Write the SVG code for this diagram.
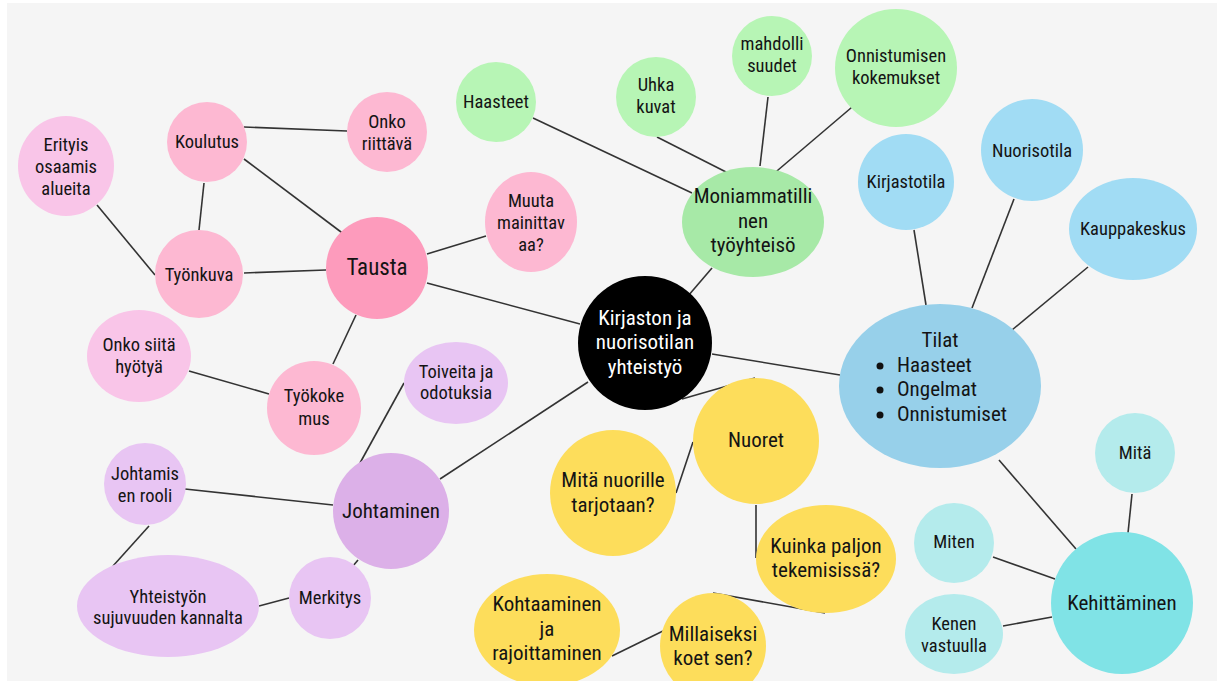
<svg xmlns="http://www.w3.org/2000/svg" width="1217" height="681" viewBox="0 0 1217 681">
<style>
.bg{fill:#f5f5f5}
.e{stroke:#333;stroke-width:1.6;fill:none}
text{font-family:"Liberation Sans Narrow","Roboto Condensed","DejaVu Sans Condensed","Liberation Sans",sans-serif;font-stretch:condensed;fill:#141414;text-anchor:middle;font-size:18.5px}
.b{font-size:21px}
.w{fill:#ffffff}
.l{text-anchor:start}
.pk1{fill:#f9c5e8}.pk2{fill:#fdb8d2}.pk3{fill:#fd9bbc}
.g1{fill:#b7f5b5}.g2{fill:#a7e9a7}
.bl1{fill:#a1dcf4}.bl2{fill:#97d0ea}
.pu1{fill:#e8c5f3}.pu2{fill:#dcb0e8}
.y{fill:#fddd5b}
.t1{fill:#b4ebec}.t2{fill:#80e3e6}
</style>
<rect x="0" y="0" width="1217" height="681" fill="#ffffff"/>
<rect class="bg" x="7" y="3" width="1210" height="678"/>
<g id="connectors">
<line class="e" x1="97" y1="205" x2="155" y2="275"/>
<line class="e" x1="244" y1="127" x2="347" y2="131"/>
<line class="e" x1="204" y1="183" x2="199" y2="230"/>
<line class="e" x1="244" y1="159" x2="345" y2="235"/>
<line class="e" x1="244" y1="273" x2="326" y2="270"/>
<line class="e" x1="427" y1="254" x2="486" y2="236"/>
<line class="e" x1="427" y1="283" x2="580" y2="324"/>
<line class="e" x1="356" y1="315" x2="333" y2="364"/>
<line class="e" x1="189" y1="371" x2="269" y2="394"/>
<line class="e" x1="533" y1="118" x2="692" y2="193"/>
<line class="e" x1="657" y1="137" x2="728" y2="173"/>
<line class="e" x1="768" y1="97" x2="760" y2="166"/>
<line class="e" x1="858" y1="102" x2="771" y2="176"/>
<line class="e" x1="712" y1="268" x2="688" y2="296"/>
<line class="e" x1="712" y1="354" x2="840" y2="375"/>
<line class="e" x1="440" y1="479" x2="588" y2="382"/>
<line class="e" x1="682" y1="399" x2="755" y2="378"/>
<line class="e" x1="693" y1="442" x2="676" y2="493"/>
<line class="e" x1="756" y1="505" x2="756" y2="558"/>
<line class="e" x1="713" y1="593" x2="825" y2="613"/>
<line class="e" x1="612" y1="656" x2="663" y2="631"/>
<line class="e" x1="914" y1="230" x2="926" y2="305"/>
<line class="e" x1="1014" y1="199" x2="972" y2="308"/>
<line class="e" x1="1088" y1="267" x2="1012" y2="330"/>
<line class="e" x1="999" y1="460" x2="1076" y2="549"/>
<line class="e" x1="1132" y1="494" x2="1128" y2="533"/>
<line class="e" x1="993" y1="557" x2="1055" y2="579"/>
<line class="e" x1="1003" y1="626" x2="1052" y2="617"/>
<line class="e" x1="360" y1="463" x2="404" y2="383"/>
<line class="e" x1="185" y1="489" x2="333" y2="505"/>
<line class="e" x1="149" y1="526" x2="113" y2="566"/>
<line class="e" x1="358" y1="560" x2="353" y2="566"/>
<line class="e" x1="289" y1="598" x2="259" y2="606"/>
</g>
<g id="erityis"><ellipse class="pk1" cx="66" cy="166" rx="48" ry="50"/><text x="66" y="151">Erityis</text><text x="66" y="173">osaamis</text><text x="66" y="195">alueita</text></g>
<g id="koulutus"><circle class="pk2" cx="207" cy="142" r="40"/><text x="207" y="148">Koulutus</text></g>
<g id="onko-riittava"><circle class="pk2" cx="387" cy="132" r="40"/><text x="387" y="128">Onko</text><text x="387" y="150">riittävä</text></g>
<g id="tyonkuva"><circle class="pk2" cx="199" cy="274" r="44"/><text x="199" y="281">Työnkuva</text></g>
<g id="tausta"><circle class="pk3" cx="377" cy="268" r="51"/><text class="b" x="377" y="275" style="font-size:23px">Tausta</text></g>
<g id="muuta"><ellipse class="pk2" cx="531" cy="222" rx="46" ry="50"/><text x="531" y="207">Muuta</text><text x="531" y="229">mainittav</text><text x="531" y="251">aa?</text></g>
<g id="onko-siita"><ellipse class="pk1" cx="139" cy="356" rx="52" ry="46"/><text x="139" y="351">Onko siitä</text><text x="139" y="373">hyötyä</text></g>
<g id="tyokokemus"><circle class="pk2" cx="314" cy="408" r="47"/><text x="314" y="402">Työkoke</text><text x="314" y="425">mus</text></g>
<g id="haasteet"><circle class="g1" cx="496" cy="102" r="40"/><text x="496" y="108">Haasteet</text></g>
<g id="uhkakuvat"><circle class="g1" cx="656" cy="97" r="40"/><text x="656" y="91">Uhka</text><text x="656" y="113">kuvat</text></g>
<g id="mahdollisuudet"><circle class="g1" cx="772" cy="56" r="40"/><text x="772" y="50">mahdolli</text><text x="772" y="72">suudet</text></g>
<g id="onnistumisen"><ellipse class="g1" cx="896" cy="68" rx="61" ry="59"/><text x="896" y="62">Onnistumisen</text><text x="896" y="84">kokemukset</text></g>
<g id="moniammatillinen"><ellipse class="g2" cx="753" cy="222" rx="71" ry="55"/><text class="b" x="753" y="203">Moniammatilli</text><text class="b" x="753" y="228">nen</text><text class="b" x="753" y="252">työyhteisö</text></g>
<g id="kirjastotila"><circle class="bl1" cx="906" cy="182" r="48"/><text x="906" y="188">Kirjastotila</text></g>
<g id="nuorisotila"><circle class="bl1" cx="1032" cy="150" r="51"/><text x="1032" y="157">Nuorisotila</text></g>
<g id="kauppakeskus"><ellipse class="bl1" cx="1133" cy="229" rx="64" ry="51"/><text x="1133" y="235">Kauppakeskus</text></g>
<g id="tilat"><ellipse class="bl2" cx="940" cy="386" rx="101" ry="82"/><text class="b" x="940" y="347">Tilat</text>
<circle cx="880" cy="366" r="3.5" fill="#111"/><circle cx="880" cy="390" r="3.5" fill="#111"/><circle cx="880" cy="415" r="3.5" fill="#111"/>
<text class="b l" x="897" y="372">Haasteet</text><text class="b l" x="897" y="396">Ongelmat</text><text class="b l" x="897" y="421">Onnistumiset</text></g>
<g id="center"><circle cx="645" cy="343" r="67" fill="#000"/><text class="b w" x="645" y="325">Kirjaston ja</text><text class="b w" x="645" y="349">nuorisotilan</text><text class="b w" x="645" y="374">yhteistyö</text></g>
<g id="nuoret"><circle class="y" cx="756" cy="441" r="63"/><text class="b" x="756" y="447">Nuoret</text></g>
<g id="mita-nuorille"><circle class="y" cx="613" cy="493" r="63"/><text class="b" x="613" y="487">Mitä nuorille</text><text class="b" x="613" y="512">tarjotaan?</text></g>
<g id="kuinka-paljon"><ellipse class="y" cx="826" cy="559" rx="70" ry="54"/><text class="b" x="826" y="553">Kuinka paljon</text><text class="b" x="826" y="577">tekemisissä?</text></g>
<g id="kohtaaminen"><ellipse class="y" cx="547" cy="630" rx="73" ry="56"/><text class="b" x="547" y="611">Kohtaaminen</text><text class="b" x="547" y="636">ja</text><text class="b" x="547" y="660">rajoittaminen</text></g>
<g id="millaiseksi"><circle class="y" cx="713" cy="646" r="53"/><text class="b" x="713" y="641">Millaiseksi</text><text class="b" x="713" y="665">koet sen?</text></g>
<g id="toiveita"><ellipse class="pu1" cx="456" cy="383" rx="52" ry="41"/><text x="456" y="378">Toiveita ja</text><text x="456" y="399">odotuksia</text></g>
<g id="johtaminen"><circle class="pu2" cx="391" cy="511" r="58"/><text class="b" x="391" y="518">Johtaminen</text></g>
<g id="johtamisen-rooli"><circle class="pu1" cx="145" cy="484" r="41"/><text x="145" y="480">Johtamis</text><text x="145" y="502">en rooli</text></g>
<g id="yhteistyon"><ellipse class="pu1" cx="168" cy="606" rx="91" ry="51"/><text x="168" y="603">Yhteistyön</text><text x="168" y="624">sujuvuuden kannalta</text></g>
<g id="merkitys"><circle class="pu1" cx="330" cy="598" r="41"/><text x="330" y="604">Merkitys</text></g>
<g id="kehittaminen"><circle class="t2" cx="1122" cy="603" r="71"/><text class="b" x="1122" y="610">Kehittäminen</text></g>
<g id="mita"><circle class="t1" cx="1135" cy="453" r="40"/><text x="1135" y="459">Mitä</text></g>
<g id="miten"><circle class="t1" cx="954" cy="543" r="40"/><text x="954" y="548">Miten</text></g>
<g id="kenen"><ellipse class="t1" cx="954" cy="634" rx="49" ry="40"/><text x="954" y="630">Kenen</text><text x="954" y="652">vastuulla</text></g>
</svg>
